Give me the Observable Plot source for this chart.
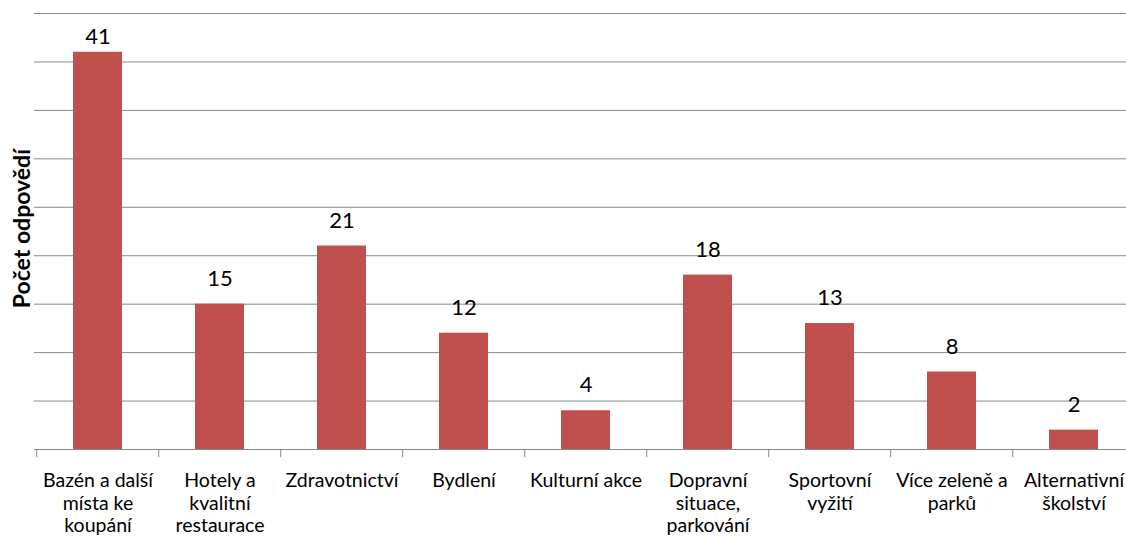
<!DOCTYPE html>
<html><head><meta charset="utf-8">
<script src="https://cdn.jsdelivr.net/npm/d3@7"></script>
<script src="https://cdn.jsdelivr.net/npm/@observablehq/plot@0.6"></script>
<style>
html,body{margin:0;padding:0;background:#fff;}
#chart{position:relative;width:1126px;height:538px;}
</style>
</head><body><div id="chart"></div>
<script>
const categories = ["Bazén a další\nmísta ke\nkoupání","Hotely a\nkvalitní\nrestaurace","Zdravotnictví","Bydlení","Kulturní akce","Dopravní\nsituace,\nparkování","Sportovní\nvyžití","Více zeleně a\nparků","Alternativní\nškolství"];
const values = [41,15,21,12,4,18,13,8,2];
const gridTicks = [5,10,15,20,25,30,35,40,45];
const yLabel = "Počet odpovědí";

const data = categories.map((c,i)=>({cat:c, v:values[i]}));
const xRange = [34, 1137.6];
const bw = (xRange[1]-xRange[0])/categories.length;
const font = "Lato, 'Open Sans', sans-serif";
const yMax = 45;
// label sits just above the bar, but is kept inside the plot area (as Excel does)
const labelY = d => Math.min(d.v + 1.9, yMax - 3.1);

const chart = Plot.plot({
  width: 1126, height: 538,
  marginLeft: 34, marginRight: 0, marginTop: 0, marginBottom: 0,
  style: {fontFamily: font, background: "#fff", overflow: "hidden"},
  x: {domain: categories, range: xRange, paddingInner: 0.6, paddingOuter: 0.3, axis: null},
  y: {domain: [0, yMax], range: [449, 13], axis: null},
  marks: [
    Plot.ruleY(gridTicks, {stroke: "#888888", strokeWidth: 1}),
    Plot.barY(data, {x: "cat", y: "v", fill: "#C0504D"}),
    Plot.ruleY([0], {stroke: "#888888", strokeWidth: 1}),
    Plot.ruleX(data, {x: "cat", y1: 0, y2: -0.85, dx: -bw/2, stroke: "#888888"}),
    Plot.text(data, {x: "cat", y: labelY, text: d=>String(d.v), lineAnchor: "bottom", fontSize: 22, fill: "#000"}),
    Plot.text(data, {x: "cat", y: 0, text: "cat", lineAnchor: "top", dy: 21.5, fontSize: 19.5, lineHeight: 1.155, fill: "#000"}),
    Plot.text([yLabel], {y: 22.8, frameAnchor: "left", textAnchor: "middle", lineAnchor: "middle", text: d=>d, rotate: -90, dx: -12, fontSize: 23, fontWeight: "bold", fill: "#000"})
  ]
});
document.getElementById("chart").appendChild(chart);
</script></body></html>
